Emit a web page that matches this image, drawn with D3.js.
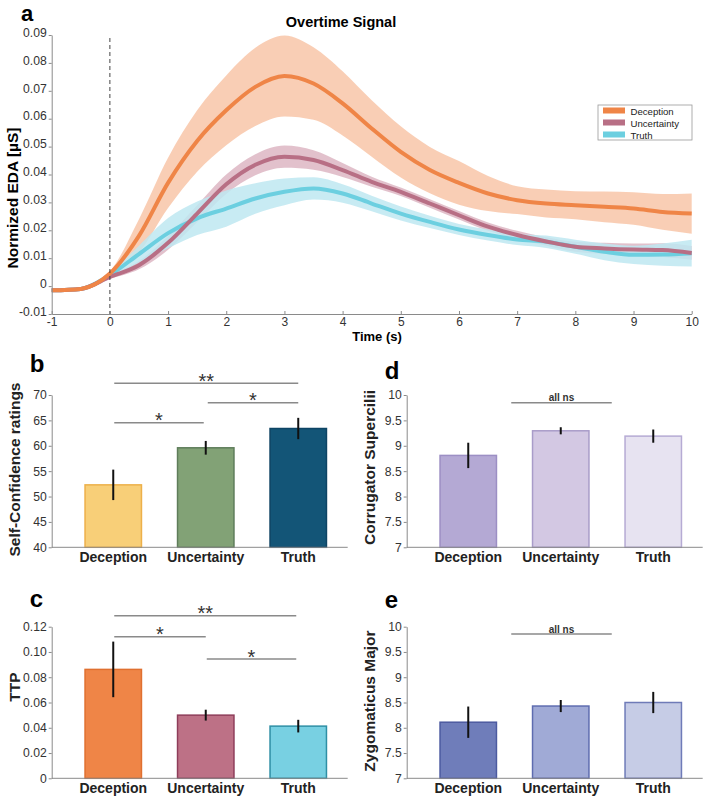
<!DOCTYPE html>
<html><head><meta charset="utf-8">
<script src="https://cdn.jsdelivr.net/npm/d3@7"></script>
<style>body{margin:0;background:#fff}svg{display:block;font-family:"Liberation Sans",Arial,sans-serif}</style>
</head><body><svg id="c" width="709" height="800"></svg>
<script>
// ---------- Panel a data ----------
const time = [-1,-0.5,0,0.5,1,1.5,2,2.5,3,3.5,4,4.5,5,5.5,6,6.5,7,7.5,8,8.5,9,9.5,10];
const decMean = [-0.0015,-0.001,0.0045,0.018,0.037,0.052,0.063,0.0714,0.0753,0.0726,0.0655,0.0565,0.0481,0.0416,0.037,0.0332,0.0308,0.0296,0.029,0.0284,0.0278,0.0266,0.026];
const decSe   = [0.0005,0.0005,0.0008,0.006,0.009,0.011,0.0125,0.014,0.0145,0.013,0.0115,0.0101,0.0092,0.0083,0.0078,0.0063,0.005,0.005,0.005,0.0055,0.0058,0.0064,0.0072];
const uncMean = [-0.0015,-0.001,0.0033,0.0075,0.0155,0.026,0.0365,0.0435,0.0464,0.0452,0.0416,0.0374,0.0338,0.0296,0.0254,0.0213,0.0183,0.016,0.0141,0.0135,0.0131,0.0129,0.0119];
const uncSe   = [0.0005,0.0005,0.0008,0.0015,0.0025,0.003,0.0035,0.0038,0.004,0.0035,0.0025,0.0018,0.0015,0.0015,0.0015,0.0015,0.0015,0.0015,0.0018,0.002,0.0022,0.0025,0.0025];
const truMean = [-0.0015,-0.001,0.004,0.0115,0.019,0.0243,0.0278,0.0314,0.0338,0.035,0.0332,0.0296,0.026,0.023,0.0203,0.0183,0.0167,0.0159,0.0141,0.0123,0.0112,0.0113,0.0118];
const truSe   = [0.0005,0.0005,0.0008,0.003,0.0054,0.006,0.0065,0.0055,0.0048,0.004,0.0033,0.0028,0.0025,0.0022,0.002,0.002,0.002,0.0022,0.0025,0.003,0.0033,0.004,0.0048];
const seriesNames = ["Deception","Uncertainty","Truth"];
const xTicksA = [-1,0,1,2,3,4,5,6,7,8,9,10];
const yTicksA = [-0.01,0,0.01,0.02,0.03,0.04,0.05,0.06,0.07,0.08,0.09];

// ---------- Bar panels data ----------
const categories = ["Deception","Uncertainty","Truth"];
const confMean = [52.3,59.6,63.4];
const confErr  = [3.0,1.35,2.1];
const confTicks = [40,45,50,55,60,65,70];
const ttpMean = [0.0862,0.050,0.0413];
const ttpErr  = [0.022,0.0043,0.005];
const ttpTicks = [0,0.02,0.04,0.06,0.08,0.10,0.12];
const corrMean = [8.81,9.295,9.19];
const corrErr  = [0.25,0.07,0.13];
const zygMean = [8.11,8.43,8.50];
const zygErr  = [0.31,0.12,0.21];
const emgTicks = [7,7.5,8,8.5,9,9.5,10];

const svg = d3.select("#c");
const FONT = '"Liberation Sans",Arial,sans-serif';

// ---------- Panel a ----------
const xA = d3.scaleLinear().domain([-1,10]).range([51.7,691.7]);
const yA = d3.scaleLinear().domain([-0.01,0.09]).range([314,35]);
const lineCol = ["#EF8547","#B86F85","#6CCFE0"];
const bandCol = ["#F8C6A8","#DDB6C3","#BEE8F1"];
const means = [decMean,uncMean,truMean];
const ses = [decSe,uncSe,truSe];

const gA = svg.append("g");
const area = d3.area().x((d,i)=>xA(time[i])).curve(d3.curveMonotoneX);
const line = d3.line().x((d,i)=>xA(time[i])).y(d=>yA(d)).curve(d3.curveMonotoneX);
[0,1,2].forEach(k=>{
  gA.append("path").datum(means[k])
    .attr("d", area.y0((d,i)=>yA(d-ses[k][i])).y1((d,i)=>yA(d+ses[k][i])))
    .attr("fill", bandCol[k]).attr("fill-opacity",0.85);
});
[2,1,0].forEach(k=>{
  gA.append("path").datum(means[k]).attr("d",line)
    .attr("fill","none").attr("stroke",lineCol[k]).attr("stroke-width",4);
});
// dashed zero line
gA.append("line").attr("x1",xA(0)).attr("x2",xA(0)).attr("y1",38).attr("y2",yA(-0.01))
  .attr("stroke","#444").attr("stroke-width",1).attr("stroke-dasharray","4,3");

function styleAxis(g){
  g.selectAll(".domain").attr("stroke","#8a8a8a").attr("stroke-width",1);
  g.selectAll(".tick line").attr("stroke","#8a8a8a");
  g.selectAll(".tick text").attr("fill","#333").attr("font-size",12.2).attr("font-family",FONT);
}
const axA_x = gA.append("g").attr("transform",`translate(0,${yA(-0.01)})`)
  .call(d3.axisBottom(xA).tickValues(xTicksA).tickSize(-3).tickSizeOuter(0).tickPadding(3).tickFormat(d=>String(d)));
styleAxis(axA_x);
axA_x.selectAll(".tick text").attr("font-size",12);
const axA_y = gA.append("g").attr("transform",`translate(${xA(-1)},0)`)
  .call(d3.axisLeft(yA).tickValues(yTicksA).tickSize(3).tickSizeOuter(0).tickPadding(2)
    .tickFormat(d=>Math.abs(d)<1e-9?"0":d.toFixed(2)));
styleAxis(axA_y);
axA_y.selectAll(".tick text").attr("dy","0.1em");

svg.append("text").attr("x",21).attr("y",20.5).attr("font-size",22).attr("font-weight","bold").text("a");
svg.append("text").attr("x",341).attr("y",27).attr("text-anchor","middle").attr("font-size",14.5).attr("font-weight","bold").text("Overtime Signal");
svg.append("text").attr("transform","translate(17.5,198) rotate(-90)").attr("text-anchor","middle")
  .attr("font-size",15.5).attr("font-weight","bold").text("Normized EDA [µS]");
svg.append("text").attr("x",377).attr("y",341).attr("text-anchor","middle").attr("font-size",13).attr("font-weight","bold").text("Time (s)");

// legend
const lg = svg.append("g");
lg.append("rect").attr("x",598).attr("y",105).attr("width",94).attr("height",35)
  .attr("fill","#fff").attr("stroke","#999").attr("stroke-width",0.8);
seriesNames.forEach((n,i)=>{
  lg.append("rect").attr("x",603).attr("y",107.5+i*12).attr("width",22).attr("height",6).attr("fill",lineCol[i]);
  lg.append("text").attr("x",630.5).attr("y",114.5+i*12).attr("font-size",9.6).attr("fill","#222").text(n);
});

// ---------- Bar panel helper ----------
function barPanel(o){
  const g = svg.append("g");
  const x = d3.scaleBand().domain(categories).range([o.x0+15.3, o.x0+292.8]).paddingInner(0.39).paddingOuter(0.195);
  const y = d3.scaleLinear().domain(o.domain).range([o.yb, o.yt]);
  g.selectAll("rect.bar").data(o.mean).join("rect")
    .attr("x",(d,i)=>x(categories[i])).attr("width",x.bandwidth())
    .attr("y",d=>y(d)).attr("height",d=>o.yb-y(d))
    .attr("fill",(d,i)=>o.fill[i]).attr("stroke",(d,i)=>o.stroke[i]).attr("stroke-width",1.5);
  g.selectAll("line.err").data(o.mean).join("line")
    .attr("x1",(d,i)=>x(categories[i])+x.bandwidth()/2).attr("x2",(d,i)=>x(categories[i])+x.bandwidth()/2)
    .attr("y1",(d,i)=>y(d-o.err[i])).attr("y2",(d,i)=>y(d+o.err[i]))
    .attr("stroke","#111").attr("stroke-width",2);
  const ax = g.append("g").attr("transform",`translate(${o.x0},0)`)
    .call(d3.axisLeft(y).tickValues(o.ticks).tickSize(3).tickSizeOuter(0).tickPadding(2).tickFormat(o.fmt));
  styleAxis(ax);
  g.append("line").attr("x1",o.x0).attr("x2",o.x0+296).attr("y1",o.yb).attr("y2",o.yb)
    .attr("stroke","#8a8a8a").attr("stroke-width",1);
  categories.forEach(c=>{
    g.append("text").attr("x",x(c)+x.bandwidth()/2).attr("y",o.yb+15).attr("text-anchor","middle")
      .attr("font-size",14).attr("font-weight","bold").attr("fill","#222").text(c);
  });
  g.append("text").attr("x",o.x0-22).attr("y",o.labY).attr("font-size",24).attr("font-weight","bold").text(o.letter);
  g.append("text").attr("transform",`translate(${o.x0-32},${o.ylabY}) rotate(-90)`).attr("text-anchor","middle")
    .attr("font-size",15.5).attr("font-weight","bold").attr("fill","#222").text(o.ylabel);
  const cx = i=>x(categories[i])+x.bandwidth()/2;
  (o.sig||[]).forEach(s=>{
    const x1 = cx(s.a)+s.da, x2 = cx(s.b)+s.db;
    g.append("line").attr("x1",x1).attr("x2",x2).attr("y1",s.y).attr("y2",s.y)
      .attr("stroke","#8a8a8a").attr("stroke-width",1.5);
    const ns = s.t.startsWith("all");
    g.append("text").attr("x",(x1+x2)/2).attr("y",s.y+(ns?-1.5:4.5))
      .attr("text-anchor","middle").attr("font-size",ns?10:20).attr("fill","#333")
      .attr("font-weight",ns?"bold":"normal").text(s.t);
  });
}

const f1 = d=>String(d);
barPanel({x0:51.7,yt:395,yb:547.3,domain:[40,70],ticks:confTicks,fmt:f1,mean:confMean,err:confErr,
  fill:["#F8CF78","#82A276","#135577"],stroke:["#EDB04A","#5F7D5A","#0E4464"],
  letter:"b",labY:372,ylabel:"Self-Confidence ratings",ylabY:469.5,
  sig:[{a:0,b:2,da:1,db:0,y:383.3,t:"**"},{a:1,b:2,da:2,db:0,y:402.7,t:"*"},{a:0,b:1,da:1,db:-2,y:422.7,t:"*"}]});
barPanel({x0:51.7,yt:626.7,yb:778.3,domain:[0,0.12],ticks:ttpTicks,fmt:d=>d===0?"0":d.toFixed(2),mean:ttpMean,err:ttpErr,
  fill:["#EF8547","#BD7186","#78D0E2"],stroke:["#E07030","#8E3D5A","#2E8FA5"],
  letter:"c",labY:607,ylabel:"TTP",ylabY:687,
  sig:[{a:0,b:2,da:1,db:-2,y:615.7,t:"**"},{a:0,b:1,da:1,db:0,y:636.7,t:"*"},{a:1,b:2,da:1,db:-2,y:659,t:"*"}]});
barPanel({x0:406.7,yt:395,yb:547.3,domain:[7,10],ticks:emgTicks,fmt:f1,mean:corrMean,err:corrErr,
  fill:["#B4A9D4","#D3C8E3","#E7E3F1"],stroke:["#9C8FC4","#A99CC9","#B6ABD4"],
  letter:"d",labY:379,ylabel:"Corrugator Supercilii",ylabY:467.5,
  sig:[{a:0,b:1,da:43,db:51,y:402.7,t:"all ns"}]});
barPanel({x0:406.7,yt:626.7,yb:778.3,domain:[7,10],ticks:emgTicks,fmt:f1,mean:zygMean,err:zygErr,
  fill:["#6F7DBA","#A0AAD6","#C6CCE6"],stroke:["#4C5AA0","#5E6CB0","#6F7BB8"],
  letter:"e",labY:608,ylabel:"Zygomaticus Major",ylabY:701,
  sig:[{a:0,b:1,da:43,db:51,y:634,t:"all ns"}]});
</script></body></html>
